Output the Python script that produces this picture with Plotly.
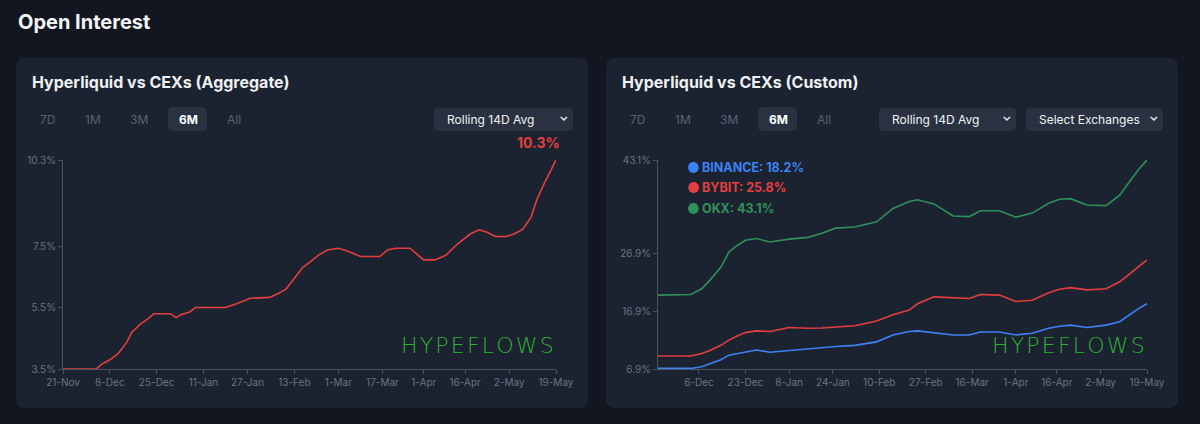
import plotly.graph_objects as go
import datetime

W, H = 1200, 424

# ---------------- data ----------------
agg_dates = ["2024-11-21", "2024-11-28", "2024-12-03", "2024-12-05", "2024-12-08", "2024-12-11",
             "2024-12-14", "2024-12-16", "2024-12-19", "2024-12-22", "2024-12-24", "2024-12-28",
             "2024-12-30", "2025-01-01", "2025-01-03", "2025-01-06", "2025-01-08", "2025-01-13",
             "2025-01-19", "2025-01-23", "2025-01-28", "2025-02-04", "2025-02-07", "2025-02-10",
             "2025-02-13", "2025-02-16", "2025-02-19", "2025-02-22", "2025-02-25", "2025-03-01",
             "2025-03-04", "2025-03-07", "2025-03-09", "2025-03-16", "2025-03-19", "2025-03-22",
             "2025-03-27", "2025-03-30", "2025-04-01", "2025-04-05", "2025-04-09", "2025-04-13",
             "2025-04-18", "2025-04-21", "2025-04-24", "2025-04-27", "2025-05-01", "2025-05-04",
             "2025-05-07", "2025-05-10", "2025-05-12", "2025-05-14", "2025-05-16", "2025-05-19"]
agg_values = [3.5, 3.5, 3.5, 3.65, 3.8, 4.0,
              4.35, 4.7, 4.95, 5.15, 5.3, 5.3,
              5.3, 5.17, 5.27, 5.35, 5.5, 5.5,
              5.5, 5.62, 5.8, 5.83, 5.95, 6.1,
              6.45, 6.8, 7.0, 7.22, 7.37, 7.43,
              7.35, 7.25, 7.16, 7.16, 7.38, 7.43,
              7.43, 7.2, 7.05, 7.05, 7.2, 7.55,
              7.9, 8.03, 7.95, 7.81, 7.81, 7.9,
              8.05, 8.45, 9.0, 9.4, 9.76, 10.3]

cus_dates = ["2024-11-21", "2024-11-28", "2024-12-03", "2024-12-07", "2024-12-10", "2024-12-14",
             "2024-12-17", "2024-12-20", "2024-12-23", "2024-12-27", "2025-01-01", "2025-01-08",
             "2025-01-15", "2025-01-20", "2025-01-25", "2025-02-01", "2025-02-09", "2025-02-15",
             "2025-02-21", "2025-02-24", "2025-03-02", "2025-03-09", "2025-03-15", "2025-03-19",
             "2025-03-26", "2025-04-01", "2025-04-07", "2025-04-13", "2025-04-17", "2025-04-21",
             "2025-04-27", "2025-05-04", "2025-05-09", "2025-05-13", "2025-05-16", "2025-05-19"]
okx = [19.7, 19.7, 19.8, 20.8, 22.3, 24.5, 27.2, 28.3, 29.2, 29.5, 28.9, 29.4,
       29.7, 30.4, 31.3, 31.5, 32.4, 34.7, 35.9, 36.2, 35.5, 33.4, 33.3, 34.3,
       34.3, 33.2, 33.9, 35.6, 36.3, 36.4, 35.3, 35.2, 37.0, 39.6, 41.5, 43.1]
bybit = [9.15, 9.1, 9.15, 9.6, 10.1, 11.0, 11.9, 12.6, 13.2, 13.5, 13.4, 14.1,
         13.95, 14.0, 14.2, 14.4, 15.2, 16.3, 17.1, 18.2, 19.4, 19.3, 19.1, 19.8,
         19.7, 18.6, 18.8, 20.1, 20.7, 21.0, 20.6, 20.8, 22.0, 23.5, 24.6, 25.8]
binance = [7.0, 7.0, 7.0, 7.3, 7.8, 8.5, 9.3, 9.6, 9.9, 10.2, 9.8, 10.1,
           10.3, 10.5, 10.8, 11.0, 11.6, 12.8, 13.4, 13.5, 13.2, 12.8, 12.8, 13.3,
           13.3, 12.8, 13.1, 13.95, 14.3, 14.5, 14.1, 14.5, 15.1, 16.5, 17.4, 18.2]

left_xticks = ["2024-11-21", "2024-12-08", "2024-12-25", "2025-01-11", "2025-01-27", "2025-02-13",
               "2025-03-01", "2025-03-17", "2025-04-01", "2025-04-16", "2025-05-02", "2025-05-19"]
right_xticks = ["2024-12-06", "2024-12-23", "2025-01-08", "2025-01-24", "2025-02-10", "2025-02-27",
                "2025-03-16", "2025-04-01", "2025-04-16", "2025-05-02", "2025-05-19"]
left_yticks = [3.5, 5.5, 7.5, 10.3]
right_yticks = [6.9, 16.9, 26.9, 43.1]
x_range = ["2024-11-21", "2025-05-19"]

# ---------------- styles ----------------
PAGE_BG = "#111620"
CARD_BG = "#1c2330"
BTN_BG = "#2a3140"
AXIS_C = "#4b5260"
TICK_C = "#6b7280"
RED = "#e53e3e"
BLUE = "#3b82f6"
GREEN = "#2f9159"
WM_GREEN = "#2fb034"
FONT = "Inter"


def px(x):
    return x / W


def py(y):
    return 1 - y / H


def dlabel(d):
    dt = datetime.date.fromisoformat(d)
    return f"{dt.day}-{dt.strftime('%b')}"


def rrect(x0, y0, x1, y1, r, fill):
    rx, ry = r / W, r / H
    X0, X1 = px(x0), px(x1)
    Y0, Y1 = py(y1), py(y0)  # bottom, top in paper
    path = (f"M {X0+rx},{Y1} L {X1-rx},{Y1} Q {X1},{Y1} {X1},{Y1-ry} "
            f"L {X1},{Y0+ry} Q {X1},{Y0} {X1-rx},{Y0} L {X0+rx},{Y0} "
            f"Q {X0},{Y0} {X0},{Y0+ry} L {X0},{Y1-ry} Q {X0},{Y1} {X0+rx},{Y1} Z")
    return dict(type="path", path=path, xref="paper", yref="paper",
                fillcolor=fill, line=dict(width=0, color=fill), layer="below")


fig = go.Figure()

fig.add_trace(go.Scatter(x=agg_dates, y=agg_values, mode="lines",
                         line=dict(color=RED, width=1.6), xaxis="x", yaxis="y",
                         hoverinfo="skip", showlegend=False))
fig.add_trace(go.Scatter(x=cus_dates, y=okx, mode="lines", name="OKX",
                         line=dict(color=GREEN, width=1.6), xaxis="x2", yaxis="y2",
                         hoverinfo="skip", showlegend=False))
fig.add_trace(go.Scatter(x=cus_dates, y=bybit, mode="lines", name="BYBIT",
                         line=dict(color=RED, width=1.6), xaxis="x2", yaxis="y2",
                         hoverinfo="skip", showlegend=False))
fig.add_trace(go.Scatter(x=cus_dates, y=binance, mode="lines", name="BINANCE",
                         line=dict(color=BLUE, width=1.6), xaxis="x2", yaxis="y2",
                         hoverinfo="skip", showlegend=False))

axis_common = dict(showgrid=False, zeroline=False, showline=True, linecolor=AXIS_C, linewidth=1,
                   ticks="outside", ticklen=4, tickcolor=AXIS_C, automargin=False,
                   tickfont=dict(family=FONT, size=10, color=TICK_C))

L_X0, L_X1 = 63, 556
R_X0, R_X1 = 658, 1147
P_Y0, P_Y1 = 160, 369

fig.update_layout(
    template="none",
    width=W, height=H, autosize=False,
    margin=dict(l=0, r=0, t=0, b=0, pad=0, autoexpand=False),
    paper_bgcolor=PAGE_BG, plot_bgcolor="rgba(0,0,0,0)",
    xaxis=dict(domain=[px(L_X0), px(L_X1)], range=x_range, type="date",
               tickvals=left_xticks, ticktext=[dlabel(d) for d in left_xticks],
               anchor="y", **axis_common),
    yaxis=dict(domain=[py(P_Y1), py(P_Y0)], range=[left_yticks[0], left_yticks[-1]],
               tickvals=left_yticks, ticktext=[f"{v}%" for v in left_yticks],
               anchor="x", **axis_common),
    xaxis2=dict(domain=[px(R_X0), px(R_X1)], range=x_range, type="date",
                tickvals=right_xticks, ticktext=[dlabel(d) for d in right_xticks],
                anchor="y2", **axis_common),
    yaxis2=dict(domain=[py(P_Y1), py(P_Y0)], range=[right_yticks[0], right_yticks[-1]],
                tickvals=right_yticks, ticktext=[f"{v}%" for v in right_yticks],
                anchor="x2", **axis_common),
)

shapes = [rrect(16, 58, 588, 408, 9, CARD_BG), rrect(606, 58, 1178, 408, 9, CARD_BG)]
ann = []


def text(x, y, s, size, color, bold=False, xanchor="left"):
    ann.append(dict(x=px(x), y=py(y), xref="paper", yref="paper", text=s, showarrow=False,
                    xanchor=xanchor, yanchor="middle",
                    font=dict(family=FONT, size=size, color=color, weight=700 if bold else 400)))


text(16, 22, "Open Interest", 20, "#f3f4f6", bold=True)
text(30, 82, "Hyperliquid vs CEXs (Aggregate)", 16, "#eef0f3", bold=True)
text(620, 82, "Hyperliquid vs CEXs (Custom)", 16, "#eef0f3", bold=True)

# range buttons
for base in (0, 590):
    labels = [("7D", 47), ("1M", 93), ("3M", 139), ("6M", 188), ("All", 234)]
    shapes.append(rrect(base + 168, 107, base + 207, 131, 5, BTN_BG))
    for lab, cx in labels:
        active = lab == "6M"
        text(base + cx, 119, lab, 12, "#ffffff" if active else "#596273",
             bold=active, xanchor="center")

# dropdowns
for x0, x1, lab in [(434, 573, "Rolling 14D Avg"), (879, 1016, "Rolling 14D Avg"),
                    (1026, 1163, "Select Exchanges")]:
    shapes.append(rrect(x0, 108, x1, 131, 5, BTN_BG))
    text(x0 + 11, 119.5, lab, 12, "#f1f3f5")
    text(x1 - 9, 117, "⌄", 12, "#e5e7eb", bold=True, xanchor="center")

# last-value label left chart
text(562, 142, f"{agg_values[-1]}%", 14, RED, bold=True, xanchor="right")

# legend on right chart
for i, (name, vals, col) in enumerate([("BINANCE", binance, BLUE), ("BYBIT", bybit, RED),
                                       ("OKX", okx, GREEN)]):
    yy = 167 + i * 20.5
    text(693, yy, "●", 14, col, xanchor="center")
    text(700, yy, f"{name}: {vals[-1]}%", 12.5, col, bold=True)

# watermarks
wm = "\u200a".join("HYPEFLOWS")
for cx in (477, 1068):
    ann.append(dict(x=px(cx), y=py(345), xref="paper", yref="paper",
                    text=wm, showarrow=False, xanchor="center", yanchor="middle",
                    font=dict(family="DejaVu Sans", size=22, color=WM_GREEN, weight=200)))

fig.update_layout(shapes=shapes, annotations=ann)
fig.write_html("out.html",
               post_script="document.body.style.margin='0';document.body.style.overflow='hidden';")
